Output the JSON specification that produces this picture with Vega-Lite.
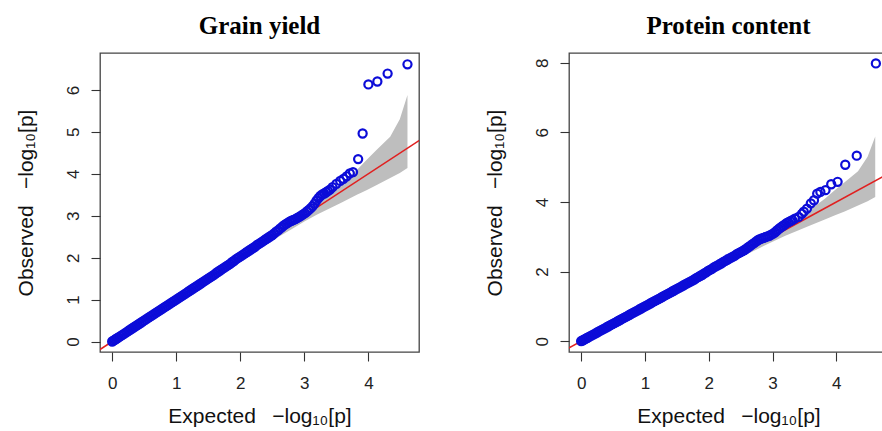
{
  "$schema": "https://vega.github.io/schema/vega-lite/v6.json",
  "padding": {"left": 14, "top": 13, "right": 0, "bottom": 0},
  "background": "white",
  "spacing": 150,
  "bounds": "flush",
  "config": {
    "view": {"stroke": "#444", "strokeWidth": 1.3},
    "axis": {"grid": false, "domain": false, "tickSize": 9, "tickColor": "#333", "tickWidth": 1.1, "labelFont": "Liberation Sans", "labelFontSize": 17, "labelColor": "#222", "titleFont": "Liberation Sans", "titleFontSize": 21, "titleFontWeight": "normal", "titleColor": "#111", "format": "d"},
    "axisX": {"labelPadding": 14, "titleBaseline": "alphabetic", "titleY": 70, "titleAnchor": "middle"},
    "axisY": {"labelAngle": 270, "labelAlign": "center", "labelBaseline": "alphabetic", "labelPadding": 13, "titleAngle": 270, "titleBaseline": "alphabetic", "titleX": -68, "titleY": 149.5, "titleAlign": "center", "titleAnchor": "middle"},
    "title": {"font": "Liberation Serif", "fontSize": 25, "fontWeight": "bold", "color": "#000", "anchor": "middle", "frame": "group", "baseline": "alphabetic", "offset": 14}
  },
  "datasets": {
    "band": [
      {"x": 0, "lo": 0, "hi": 0}, {"x": 0.5, "lo": 0.49, "hi": 0.51}, {"x": 1, "lo": 0.98, "hi": 1.03}, {"x": 1.5, "lo": 1.46, "hi": 1.55}, {"x": 2, "lo": 1.94, "hi": 2.08}, {"x": 2.5, "lo": 2.41, "hi": 2.62}, {"x": 2.8, "lo": 2.68, "hi": 2.96}, {"x": 3.0, "lo": 2.86, "hi": 3.18}, {"x": 3.2, "lo": 3.03, "hi": 3.33}, {"x": 3.4, "lo": 3.18, "hi": 3.55}, {"x": 3.56, "lo": 3.3, "hi": 3.74}, {"x": 3.82, "lo": 3.5, "hi": 4.09}, {"x": 3.97, "lo": 3.61, "hi": 4.33}, {"x": 4.13, "lo": 3.73, "hi": 4.57}, {"x": 4.34, "lo": 3.9, "hi": 4.88}, {"x": 4.49, "lo": 4.02, "hi": 5.3}, {"x": 4.61, "lo": 4.14, "hi": 5.88}
    ],
    "diag": [{"x": -0.3, "y": -0.3}, {"x": 4.9, "y": 4.9}],
    "gy": [
      {"x": 0, "y": 0}, {"x": 0.02, "y": 0.02}, {"x": 0.04, "y": 0.04}, {"x": 0.06, "y": 0.06}, {"x": 0.08, "y": 0.08}, {"x": 0.1, "y": 0.1}, {"x": 0.13, "y": 0.13}, {"x": 0.16, "y": 0.16}, {"x": 0.19, "y": 0.19}, {"x": 0.22, "y": 0.22}, {"x": 0.25, "y": 0.25}, {"x": 0.28, "y": 0.28}, {"x": 0.31, "y": 0.31}, {"x": 0.34, "y": 0.34}, {"x": 0.37, "y": 0.37}, {"x": 0.4, "y": 0.4}, {"x": 0.43, "y": 0.43}, {"x": 0.46, "y": 0.46}, {"x": 0.49, "y": 0.49}, {"x": 0.52, "y": 0.52}, {"x": 0.55, "y": 0.55}, {"x": 0.58, "y": 0.58}, {"x": 0.61, "y": 0.61}, {"x": 0.64, "y": 0.64}, {"x": 0.67, "y": 0.67}, {"x": 0.7, "y": 0.7}, {"x": 0.73, "y": 0.73}, {"x": 0.76, "y": 0.76}, {"x": 0.79, "y": 0.79}, {"x": 0.82, "y": 0.82}, {"x": 0.85, "y": 0.85}, {"x": 0.88, "y": 0.88}, {"x": 0.91, "y": 0.91}, {"x": 0.94, "y": 0.94}, {"x": 0.97, "y": 0.97}, {"x": 1, "y": 1}, {"x": 1.03, "y": 1.03}, {"x": 1.06, "y": 1.06}, {"x": 1.09, "y": 1.09}, {"x": 1.12, "y": 1.12}, {"x": 1.15, "y": 1.15}, {"x": 1.18, "y": 1.18}, {"x": 1.21, "y": 1.21}, {"x": 1.24, "y": 1.24}, {"x": 1.27, "y": 1.27}, {"x": 1.3, "y": 1.3}, {"x": 1.33, "y": 1.33}, {"x": 1.36, "y": 1.36}, {"x": 1.39, "y": 1.39}, {"x": 1.42, "y": 1.42}, {"x": 1.45, "y": 1.45}, {"x": 1.48, "y": 1.48}, {"x": 1.51, "y": 1.51}, {"x": 1.54, "y": 1.54}, {"x": 1.57, "y": 1.57}, {"x": 1.6, "y": 1.6}, {"x": 1.63, "y": 1.64}, {"x": 1.66, "y": 1.67}, {"x": 1.69, "y": 1.7}, {"x": 1.72, "y": 1.73}, {"x": 1.75, "y": 1.76}, {"x": 1.78, "y": 1.79}, {"x": 1.81, "y": 1.82}, {"x": 1.84, "y": 1.85}, {"x": 1.87, "y": 1.89}, {"x": 1.9, "y": 1.92}, {"x": 1.93, "y": 1.96}, {"x": 1.96, "y": 1.99}, {"x": 1.99, "y": 2.02}, {"x": 2.02, "y": 2.05}, {"x": 2.05, "y": 2.08}, {"x": 2.08, "y": 2.11}, {"x": 2.11, "y": 2.14}, {"x": 2.14, "y": 2.17}, {"x": 2.17, "y": 2.2}, {"x": 2.2, "y": 2.23}, {"x": 2.23, "y": 2.26}, {"x": 2.26, "y": 2.3}, {"x": 2.29, "y": 2.33}, {"x": 2.32, "y": 2.36}, {"x": 2.35, "y": 2.39}, {"x": 2.38, "y": 2.42}, {"x": 2.41, "y": 2.45}, {"x": 2.44, "y": 2.48}, {"x": 2.47, "y": 2.51}, {"x": 2.5, "y": 2.54}, {"x": 2.53, "y": 2.58}, {"x": 2.56, "y": 2.62}, {"x": 2.59, "y": 2.65}, {"x": 2.62, "y": 2.69}, {"x": 2.65, "y": 2.73}, {"x": 2.68, "y": 2.77}, {"x": 2.71, "y": 2.8}, {"x": 2.74, "y": 2.83}, {"x": 2.77, "y": 2.86}, {"x": 2.8, "y": 2.88}, {"x": 2.83, "y": 2.9}, {"x": 2.86, "y": 2.92}, {"x": 2.89, "y": 2.95}, {"x": 2.92, "y": 2.97}, {"x": 2.95, "y": 3.0}, {"x": 2.98, "y": 3.03}, {"x": 3.01, "y": 3.06}, {"x": 3.04, "y": 3.1}, {"x": 3.07, "y": 3.14}, {"x": 3.1, "y": 3.18}, {"x": 3.13, "y": 3.23}, {"x": 3.16, "y": 3.29}, {"x": 3.19, "y": 3.36}, {"x": 3.22, "y": 3.42}, {"x": 3.25, "y": 3.47}, {"x": 3.28, "y": 3.51}, {"x": 3.31, "y": 3.53}, {"x": 3.34, "y": 3.56}, {"x": 3.37, "y": 3.59}, {"x": 3.4, "y": 3.62}, {"x": 3.44, "y": 3.68}, {"x": 3.5, "y": 3.76}, {"x": 3.56, "y": 3.83}, {"x": 3.61, "y": 3.88}, {"x": 3.66, "y": 3.94}, {"x": 3.71, "y": 4.01}, {"x": 3.76, "y": 4.04}, {"x": 3.84, "y": 4.35}, {"x": 3.91, "y": 4.96}, {"x": 4.0, "y": 6.13}, {"x": 4.14, "y": 6.2}, {"x": 4.3, "y": 6.39}, {"x": 4.61, "y": 6.61}
    ],
    "pc": [
      {"x": 0, "y": 0}, {"x": 0.02, "y": 0.02}, {"x": 0.04, "y": 0.04}, {"x": 0.06, "y": 0.06}, {"x": 0.08, "y": 0.08}, {"x": 0.1, "y": 0.1}, {"x": 0.13, "y": 0.13}, {"x": 0.16, "y": 0.16}, {"x": 0.19, "y": 0.19}, {"x": 0.22, "y": 0.22}, {"x": 0.25, "y": 0.25}, {"x": 0.28, "y": 0.28}, {"x": 0.31, "y": 0.31}, {"x": 0.34, "y": 0.34}, {"x": 0.37, "y": 0.37}, {"x": 0.4, "y": 0.4}, {"x": 0.43, "y": 0.43}, {"x": 0.46, "y": 0.46}, {"x": 0.49, "y": 0.49}, {"x": 0.52, "y": 0.52}, {"x": 0.55, "y": 0.55}, {"x": 0.58, "y": 0.58}, {"x": 0.61, "y": 0.61}, {"x": 0.64, "y": 0.64}, {"x": 0.67, "y": 0.67}, {"x": 0.7, "y": 0.7}, {"x": 0.73, "y": 0.73}, {"x": 0.76, "y": 0.76}, {"x": 0.79, "y": 0.79}, {"x": 0.82, "y": 0.82}, {"x": 0.85, "y": 0.85}, {"x": 0.88, "y": 0.88}, {"x": 0.91, "y": 0.91}, {"x": 0.94, "y": 0.94}, {"x": 0.97, "y": 0.97}, {"x": 1, "y": 1}, {"x": 1.03, "y": 1.03}, {"x": 1.06, "y": 1.06}, {"x": 1.09, "y": 1.09}, {"x": 1.12, "y": 1.12}, {"x": 1.15, "y": 1.15}, {"x": 1.18, "y": 1.18}, {"x": 1.21, "y": 1.21}, {"x": 1.24, "y": 1.24}, {"x": 1.27, "y": 1.27}, {"x": 1.3, "y": 1.3}, {"x": 1.33, "y": 1.33}, {"x": 1.36, "y": 1.36}, {"x": 1.39, "y": 1.39}, {"x": 1.42, "y": 1.42}, {"x": 1.45, "y": 1.45}, {"x": 1.48, "y": 1.48}, {"x": 1.51, "y": 1.51}, {"x": 1.54, "y": 1.54}, {"x": 1.57, "y": 1.57}, {"x": 1.6, "y": 1.6}, {"x": 1.63, "y": 1.63}, {"x": 1.66, "y": 1.66}, {"x": 1.69, "y": 1.69}, {"x": 1.72, "y": 1.72}, {"x": 1.75, "y": 1.75}, {"x": 1.78, "y": 1.78}, {"x": 1.81, "y": 1.82}, {"x": 1.84, "y": 1.85}, {"x": 1.87, "y": 1.88}, {"x": 1.9, "y": 1.91}, {"x": 1.93, "y": 1.95}, {"x": 1.96, "y": 1.98}, {"x": 1.99, "y": 2.02}, {"x": 2.02, "y": 2.05}, {"x": 2.05, "y": 2.08}, {"x": 2.08, "y": 2.12}, {"x": 2.11, "y": 2.15}, {"x": 2.14, "y": 2.18}, {"x": 2.17, "y": 2.21}, {"x": 2.2, "y": 2.24}, {"x": 2.23, "y": 2.28}, {"x": 2.26, "y": 2.31}, {"x": 2.29, "y": 2.34}, {"x": 2.32, "y": 2.37}, {"x": 2.35, "y": 2.4}, {"x": 2.38, "y": 2.43}, {"x": 2.41, "y": 2.46}, {"x": 2.44, "y": 2.5}, {"x": 2.47, "y": 2.53}, {"x": 2.5, "y": 2.56}, {"x": 2.53, "y": 2.59}, {"x": 2.56, "y": 2.62}, {"x": 2.59, "y": 2.66}, {"x": 2.62, "y": 2.7}, {"x": 2.65, "y": 2.74}, {"x": 2.68, "y": 2.78}, {"x": 2.71, "y": 2.82}, {"x": 2.74, "y": 2.86}, {"x": 2.77, "y": 2.9}, {"x": 2.8, "y": 2.93}, {"x": 2.83, "y": 2.95}, {"x": 2.86, "y": 2.97}, {"x": 2.89, "y": 2.99}, {"x": 2.92, "y": 3.01}, {"x": 2.95, "y": 3.03}, {"x": 2.98, "y": 3.06}, {"x": 3.01, "y": 3.09}, {"x": 3.04, "y": 3.13}, {"x": 3.07, "y": 3.18}, {"x": 3.1, "y": 3.23}, {"x": 3.13, "y": 3.27}, {"x": 3.16, "y": 3.31}, {"x": 3.19, "y": 3.35}, {"x": 3.22, "y": 3.39}, {"x": 3.25, "y": 3.42}, {"x": 3.28, "y": 3.45}, {"x": 3.31, "y": 3.48}, {"x": 3.35, "y": 3.52}, {"x": 3.41, "y": 3.57}, {"x": 3.46, "y": 3.66}, {"x": 3.49, "y": 3.72}, {"x": 3.54, "y": 3.81}, {"x": 3.6, "y": 3.96}, {"x": 3.65, "y": 4.05}, {"x": 3.7, "y": 4.24}, {"x": 3.75, "y": 4.29}, {"x": 3.83, "y": 4.34}, {"x": 3.92, "y": 4.51}, {"x": 4.02, "y": 4.58}, {"x": 4.14, "y": 5.07}, {"x": 4.32, "y": 5.33}, {"x": 4.62, "y": 7.98}
    ]
  },
  "hconcat": [
    {
      "width": 319,
      "height": 299,
      "title": "Grain yield",
      "layer": [
        {
          "data": {"name": "band"},
          "mark": {"type": "area", "color": "#bebebe", "opacity": 1, "clip": true},
          "encoding": {
            "x": {"field": "x", "type": "quantitative", "scale": {"domain": [-0.19, 4.79], "nice": false, "zero": false}, "axis": {"title": "Expected \u2002\u2212log\u2081\u2080[p]", "values": [0, 1, 2, 3, 4]}},
            "y": {"field": "lo", "type": "quantitative", "scale": {"domain": [-0.25, 6.88], "nice": false, "zero": false}, "axis": {"title": "Observed \u2002\u2212log\u2081\u2080[p]", "values": [0, 1, 2, 3, 4, 5, 6]}},
            "y2": {"field": "hi"}
          }
        },
        {
          "data": {"name": "diag"},
          "mark": {"type": "line", "color": "#e02020", "strokeWidth": 1.6, "clip": true},
          "encoding": {
            "x": {"field": "x", "type": "quantitative", "title": "Expected \u2002\u2212log\u2081\u2080[p]"},
            "y": {"field": "y", "type": "quantitative", "title": "Observed \u2002\u2212log\u2081\u2080[p]"}
          }
        },
        {
          "data": {"name": "gy"},
          "mark": {"type": "point", "shape": "circle", "filled": false, "color": "#0c0cd8", "strokeWidth": 2.2, "size": 66, "opacity": 1, "clip": true},
          "encoding": {
            "x": {"field": "x", "type": "quantitative", "title": "Expected \u2002\u2212log\u2081\u2080[p]"},
            "y": {"field": "y", "type": "quantitative", "title": "Observed \u2002\u2212log\u2081\u2080[p]"}
          }
        }
      ]
    },
    {
      "width": 319,
      "height": 299,
      "title": "Protein content",
      "layer": [
        {
          "data": {"name": "band"},
          "mark": {"type": "area", "color": "#bebebe", "opacity": 1, "clip": true},
          "encoding": {
            "x": {"field": "x", "type": "quantitative", "scale": {"domain": [-0.19, 4.81], "nice": false, "zero": false}, "axis": {"title": "Expected \u2002\u2212log\u2081\u2080[p]", "values": [0, 1, 2, 3, 4]}},
            "y": {"field": "lo", "type": "quantitative", "scale": {"domain": [-0.31, 8.28], "nice": false, "zero": false}, "axis": {"title": "Observed \u2002\u2212log\u2081\u2080[p]", "values": [0, 2, 4, 6, 8]}},
            "y2": {"field": "hi"}
          }
        },
        {
          "data": {"name": "diag"},
          "mark": {"type": "line", "color": "#e02020", "strokeWidth": 1.6, "clip": true},
          "encoding": {
            "x": {"field": "x", "type": "quantitative", "title": "Expected \u2002\u2212log\u2081\u2080[p]"},
            "y": {"field": "y", "type": "quantitative", "title": "Observed \u2002\u2212log\u2081\u2080[p]"}
          }
        },
        {
          "data": {"name": "pc"},
          "mark": {"type": "point", "shape": "circle", "filled": false, "color": "#0c0cd8", "strokeWidth": 2.2, "size": 66, "opacity": 1, "clip": true},
          "encoding": {
            "x": {"field": "x", "type": "quantitative", "title": "Expected \u2002\u2212log\u2081\u2080[p]"},
            "y": {"field": "y", "type": "quantitative", "title": "Observed \u2002\u2212log\u2081\u2080[p]"}
          }
        }
      ]
    }
  ]
}
